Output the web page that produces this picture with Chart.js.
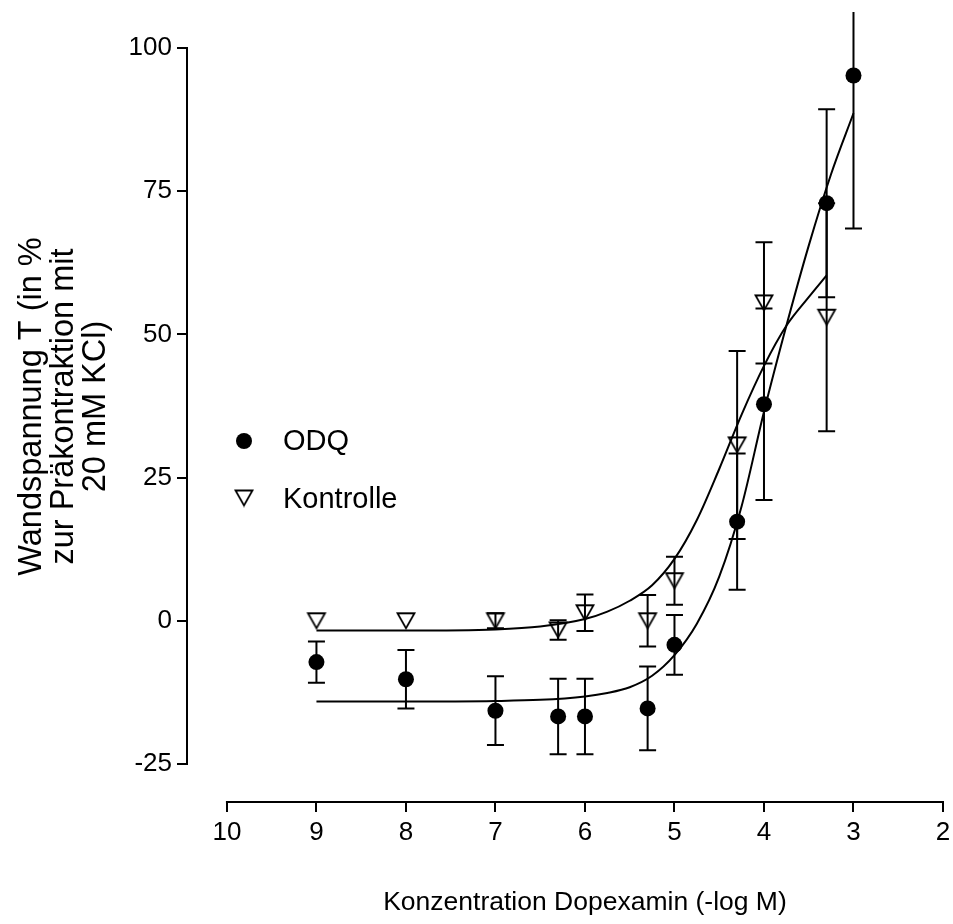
<!DOCTYPE html>
<html><head><meta charset="utf-8">
<script src="https://cdn.jsdelivr.net/npm/chart.js@4.4.1/dist/chart.umd.min.js"></script>
<style>html,body{margin:0;padding:0;background:#fff;}#wrap{width:953px;height:924px;}</style>
</head><body><div id="wrap"><canvas id="c" width="953" height="924"></canvas></div>
<script>
// ---- data ----
const xTickValues = [10, 9, 8, 7, 6, 5, 4, 3, 2];
const yTickValues = [-25, 0, 25, 50, 75, 100];

const odqX    = [9, 8, 7, 6.3, 6, 5.3, 5, 4.3, 4, 3.3, 3];
const odqMean = [-7.2, -10.2, -15.7, -16.7, -16.7, -15.3, -4.2, 17.3, 37.8, 72.9, 95.2];
const odqErr  = [3.6, 5.1, 6.0, 6.6, 6.6, 7.3, 5.2, 11.9, 16.7, 16.4, 26.7];

const ktrX    = [9, 8, 7, 6.3, 6, 5.3, 5, 4.3, 4, 3.3];
const ktrMean = [0, 0, 0, -1.6, 1.4, 0, 7.0, 30.7, 55.5, 53.0];
const ktrErr  = [0, 0, 1.3, 1.7, 3.2, 4.5, 4.2, 16.4, 10.6, 19.9];

// fitted curves, points
const odqFitX = [9, 8, 7, 6.5, 6, 5.75, 5.5, 5.25, 5, 4.75, 4.5, 4.25, 4.0, 3.75, 3.5, 3.25, 3.0];
const odqFitY = [-14.1, -14.1, -14.0, -13.8, -13.2, -12.6, -11.6, -9.6, -6.0, -0.5, 7.7, 20.0, 36.5, 51.5, 65.5, 78.0, 88.6];
const ktrFitX = [9, 8, 7, 6.5, 6, 5.75, 5.5, 5.25, 5.0, 4.75, 4.5, 4.25, 4.0, 3.75, 3.5, 3.3];
const ktrFitY = [-1.7, -1.7, -1.5, -1.0, 0.3, 1.6, 3.5, 6.2, 10.8, 17.6, 26.5, 36.0, 44.5, 51.5, 56.5, 60.3];

const seriesLabels = ['ODQ', 'Kontrolle'];
const yTitleLines = ['Wandspannung T (in %', 'zur Präkontraktion mit', '20 mM KCl)'];
const xTitleText = 'Konzentration Dopexamin (-log M)';

// ---- styling ----
const FONT = "'Liberation Sans', Arial, Helvetica, sans-serif";

// open down-pointing triangle symbol
const tri = document.createElement('canvas');
tri.width = 22; tri.height = 19;
(function(){
  const g = tri.getContext('2d');
  g.strokeStyle = '#000'; g.lineWidth = 1.8; g.lineJoin = 'miter';
  g.beginPath();
  g.moveTo(2.5, 2); g.lineTo(19.5, 2); g.lineTo(11, 17); g.closePath();
  g.stroke();
})();

const pts = (xs, ys) => xs.map((x, i) => ({x: x, y: ys[i]}));

const axesPlugin = {
  id: 'axes',
  afterDraw(chart) {
    const {ctx, chartArea, scales} = chart;
    ctx.save();
    ctx.strokeStyle = '#000'; ctx.lineWidth = 2; ctx.lineCap = 'butt';
    const xl = Math.round(chartArea.left) - 1;
    ctx.beginPath();
    ctx.moveTo(xl, scales.y.getPixelForValue(yTickValues[yTickValues.length - 1]) - 1);
    ctx.lineTo(xl, scales.y.getPixelForValue(yTickValues[0]) + 1);
    ctx.stroke();
    const yb = Math.round(chartArea.bottom) + 1;
    ctx.beginPath();
    ctx.moveTo(scales.x.getPixelForValue(xTickValues[0]) - 1, yb);
    ctx.lineTo(scales.x.getPixelForValue(xTickValues[xTickValues.length - 1]) + 1, yb);
    ctx.stroke();
    // x title
    ctx.fillStyle = '#000';
    ctx.font = '26.5px ' + FONT;
    ctx.textAlign = 'center'; ctx.textBaseline = 'middle';
    const xc = (scales.x.getPixelForValue(xTickValues[0]) + scales.x.getPixelForValue(xTickValues[xTickValues.length - 1])) / 2;
    ctx.fillText(xTitleText, xc, 903);
    ctx.restore();
  }
};

const errorBarPlugin = {
  id: 'errbars',
  afterDatasetsDraw(chart) {
    const {ctx, chartArea, scales} = chart;
    ctx.save();
    ctx.beginPath();
    ctx.rect(chartArea.left, chartArea.top, chartArea.right - chartArea.left, chartArea.bottom - chartArea.top);
    ctx.clip();
    ctx.strokeStyle = '#000'; ctx.lineWidth = 2;
    const draw = (xs, ms, es) => {
      xs.forEach((x, i) => {
        if (!es[i]) return;
        const px = scales.x.getPixelForValue(x);
        const yt = scales.y.getPixelForValue(ms[i] + es[i]);
        const yb = scales.y.getPixelForValue(ms[i] - es[i]);
        ctx.beginPath();
        ctx.moveTo(px, yt); ctx.lineTo(px, yb);
        ctx.moveTo(px - 8.5, yt); ctx.lineTo(px + 8.5, yt);
        ctx.moveTo(px - 8.5, yb); ctx.lineTo(px + 8.5, yb);
        ctx.stroke();
      });
    };
    draw(odqX, odqMean, odqErr);
    draw(ktrX, ktrMean, ktrErr);
    ctx.restore();
  }
};

const legendPlugin = {
  id: 'legendbox',
  afterDraw(chart) {
    const ctx = chart.ctx;
    ctx.save();
    ctx.fillStyle = '#000';
    ctx.beginPath(); ctx.arc(244, 441, 8, 0, Math.PI * 2); ctx.fill();
    ctx.drawImage(tri, 244 - tri.width / 2, 498 - tri.height / 2);
    ctx.font = '29px ' + FONT;
    ctx.textAlign = 'left'; ctx.textBaseline = 'middle';
    ctx.fillText(seriesLabels[0], 283, 442);
    ctx.fillText(seriesLabels[1], 283, 500);
    ctx.restore();
  }
};

const tickFont = {family: FONT, size: 26};

new Chart(document.getElementById('c'), {
  type: 'scatter',
  data: {
    datasets: [
      {label: seriesLabels[0], data: pts(odqX, odqMean), showLine: false,
       pointStyle: 'circle', pointRadius: 8, pointBackgroundColor: '#000', pointBorderColor: '#000', pointBorderWidth: 0, order: 0},
      {label: seriesLabels[1], data: pts(ktrX, ktrMean), showLine: false,
       pointStyle: tri, pointRadius: 9, order: 1},
      {label: seriesLabels[0] + ' fit', data: pts(odqFitX, odqFitY), showLine: true,
       borderColor: '#000', borderWidth: 2, pointRadius: 0, cubicInterpolationMode: 'monotone', order: 2},
      {label: seriesLabels[1] + ' fit', data: pts(ktrFitX, ktrFitY), showLine: true,
       borderColor: '#000', borderWidth: 2, pointRadius: 0, cubicInterpolationMode: 'monotone', order: 3}
    ]
  },
  options: {
    responsive: false, animation: false, events: [],
    layout: {padding: {top: 12, right: 9, left: 0, bottom: 0}},
    plugins: {legend: {display: false}, tooltip: {enabled: false}},
    scales: {
      x: {
        type: 'linear', reverse: true, min: 2, max: 10.435,
        afterBuildTicks: s => { s.ticks = xTickValues.map(v => ({value: v})); },
        afterFit: s => { s.height = 123; s.paddingLeft = 0; s.paddingRight = 0; },
        grid: {display: true, drawOnChartArea: false, drawTicks: true, tickLength: 11, color: '#000', lineWidth: 2},
        border: {display: false},
        ticks: {font: tickFont, color: '#000', padding: 5, maxRotation: 0, autoSkip: false, callback: v => String(v)}
      },
      y: {
        type: 'linear', min: -31.46, max: 106.28,
        afterBuildTicks: s => { s.ticks = yTickValues.map(v => ({value: v})); },
        afterFit: s => { s.width = 188; s.paddingTop = 0; s.paddingBottom = 0; },
        grid: {display: true, drawOnChartArea: false, drawTicks: true, tickLength: 11, color: '#000', lineWidth: 2},
        border: {display: false},
        ticks: {font: tickFont, color: '#000', padding: 5, autoSkip: false, callback: v => String(v)},
        title: {display: true, text: yTitleLines, color: '#000',
                font: {family: FONT, size: 32.5, lineHeight: '32px'}, padding: {top: 16, bottom: 0}}
      }
    }
  },
  plugins: [axesPlugin, errorBarPlugin, legendPlugin]
});
</script>
</body></html>
